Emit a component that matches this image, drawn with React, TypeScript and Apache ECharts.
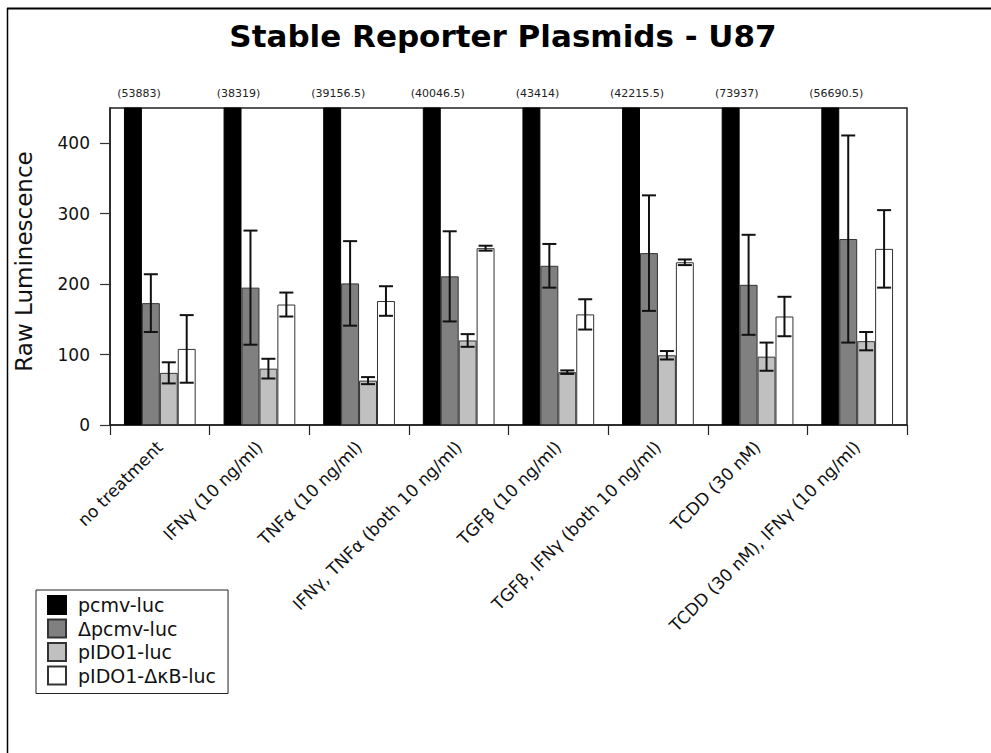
import React, { useEffect, useRef } from "react";
import * as echarts from "echarts";

const categories = [
  "no treatment",
  "IFNγ (10 ng/ml)",
  "TNFα (10 ng/ml)",
  "IFNγ, TNFα (both 10 ng/ml)",
  "TGFβ (10 ng/ml)",
  "TGFβ, IFNγ (both 10 ng/ml)",
  "TCDD (30 nM)",
  "TCDD (30 nM), IFNγ (10 ng/ml)",
];
const seriesNames = ["pcmv-luc", "Δpcmv-luc", "pIDO1-luc", "pIDO1-ΔκB-luc"];
const pcmv = [53883, 38319, 39156.5, 40046.5, 43414, 42215.5, 73937, 56690.5];
const dpcmv = [173, 195, 201, 211, 226, 244, 199, 264];
const dpcmvErr = [41, 81, 60, 64, 31, 82, 71, 147];
const pido1 = [74, 80, 63, 120, 75, 99, 97, 119];
const pido1Err = [15, 14, 5, 9, 2.5, 6, 20, 13];
const pido1dkb = [108, 171, 176, 251, 157, 231, 154, 250];
const pido1dkbErr = [48, 17, 21, 3.5, 21.5, 4, 28, 55];
const yTicks = [0, 100, 200, 300, 400];

const FONT = "DejaVu Sans";
const BAR_FRAC = 0.18;

function errorRows(means: number[], errs: number[], slot: number) {
  return means.map((m, i) => [i, slot, m - errs[i], m + errs[i]]);
}

export default function App() {
  const ref = useRef<HTMLDivElement>(null);
  useEffect(() => {
    if (!ref.current) return;
    const chart = echarts.init(ref.current, undefined, { renderer: "svg" });
    const errData = [
      ...errorRows(dpcmv, dpcmvErr, 1),
      ...errorRows(pido1, pido1Err, 2),
      ...errorRows(pido1dkb, pido1dkbErr, 3),
    ];
    const barStyle = (color: string, border: string) => ({
      color,
      borderColor: border,
      borderWidth: 1,
    });
    chart.setOption({
      animation: false,
      backgroundColor: "#ffffff",
      textStyle: { fontFamily: FONT },
      title: {
        text: "Stable Reporter Plasmids - U87",
        left: 498,
        textAlign: "center",
        top: 15,
        textStyle: { fontFamily: FONT, fontSize: 31, fontWeight: "bold", color: "#000" },
      },
      grid: {
        left: 110,
        right: 84,
        top: 108,
        bottom: 328,
        show: true,
        borderColor: "#222",
        borderWidth: 1.5,
        backgroundColor: "transparent",
      },
      legend: {
        orient: "vertical",
        left: 36,
        top: 590,
        itemWidth: 18,
        itemHeight: 18,
        itemGap: 3.5,
        padding: [5, 12, 8, 11],
        borderColor: "#222",
        borderWidth: 1,
        icon: "rect",
        data: seriesNames,
        textStyle: { fontFamily: FONT, fontSize: 19, color: "#111", padding: [0, 0, 0, 7] },
      },
      xAxis: {
        type: "category",
        data: categories,
        axisLine: { show: true, lineStyle: { color: "#222", width: 1.5 } },
        axisTick: { show: true, length: 10, lineStyle: { color: "#222", width: 1.2 } },
        axisLabel: {
          interval: 0,
          rotate: 45,
          margin: 19,
          fontFamily: FONT,
          fontSize: 17,
          color: "#111",
        },
      },
      yAxis: {
        type: "value",
        min: 0,
        max: 450,
        interval: 100,
        name: "Raw Luminescence",
        nameLocation: "middle",
        nameRotate: 90,
        nameGap: 75,
        nameTextStyle: { fontFamily: FONT, fontSize: 23, color: "#111", padding: [0, 0, 0, 10] },
        splitLine: { show: false },
        axisLine: { show: true, lineStyle: { color: "#222", width: 1.5 } },
        axisTick: { show: true, length: 10, customValues: yTicks, lineStyle: { color: "#333", width: 1.2 } },
        axisLabel: {
          customValues: yTicks,
          margin: 20,
          fontFamily: FONT,
          fontSize: 17,
          color: "#111",
        },
      },
      series: [
        {
          name: seriesNames[0],
          type: "bar",
          data: pcmv,
          barWidth: BAR_FRAC * 100 + "%",
          barGap: "0%",
          itemStyle: barStyle("#000000", "#000000"),
          label: {
            show: true,
            position: "top",
            distance: 9,
            offset: [6, 0],
            fontFamily: FONT,
            fontSize: 11,
            color: "#222",
            formatter: (p: any) => "(" + p.value + ")",
          },
        },
        {
          name: seriesNames[1],
          type: "bar",
          data: dpcmv,
          barWidth: BAR_FRAC * 100 + "%",
          barGap: "0%",
          itemStyle: barStyle("#808080", "#333333"),
        },
        {
          name: seriesNames[2],
          type: "bar",
          data: pido1,
          barWidth: BAR_FRAC * 100 + "%",
          barGap: "0%",
          itemStyle: barStyle("#c0c0c0", "#333333"),
        },
        {
          name: seriesNames[3],
          type: "bar",
          data: pido1dkb,
          barWidth: BAR_FRAC * 100 + "%",
          barGap: "0%",
          itemStyle: barStyle("#ffffff", "#333333"),
        },
        {
          type: "custom",
          name: "error",
          data: errData,
          encode: { x: 0, y: [2, 3] },
          z: 10,
          renderItem: (params: any, api: any) => {
            const cat = api.value(0);
            const slot = api.value(1);
            const lo = api.coord([cat, api.value(2)]);
            const hi = api.coord([cat, api.value(3)]);
            const band = api.size([1, 0])[0];
            const bw = band * BAR_FRAC;
            const x = lo[0] + (slot - 1.5) * bw;
            const cap = 7;
            const style = { stroke: "#111", lineWidth: 2, fill: "none" };
            return {
              type: "group",
              children: [
                { type: "line", shape: { x1: x, y1: lo[1], x2: x, y2: hi[1] }, style },
                { type: "line", shape: { x1: x - cap, y1: lo[1], x2: x + cap, y2: lo[1] }, style },
                { type: "line", shape: { x1: x - cap, y1: hi[1], x2: x + cap, y2: hi[1] }, style },
              ],
            };
          },
        },
      ],
      graphic: [
        { type: "line", shape: { x1: 7, y1: 8.5, x2: 991, y2: 8.5 }, style: { stroke: "#000", lineWidth: 2 } },
        { type: "line", shape: { x1: 7.5, y1: 8, x2: 7.5, y2: 753 }, style: { stroke: "#000", lineWidth: 1.5 } },
      ],
    });
    return () => chart.dispose();
  }, []);
  return (
    <div
      ref={ref}
      style={{ position: "fixed", left: 0, top: 0, width: 991, height: 753, background: "#fff" }}
    />
  );
}
